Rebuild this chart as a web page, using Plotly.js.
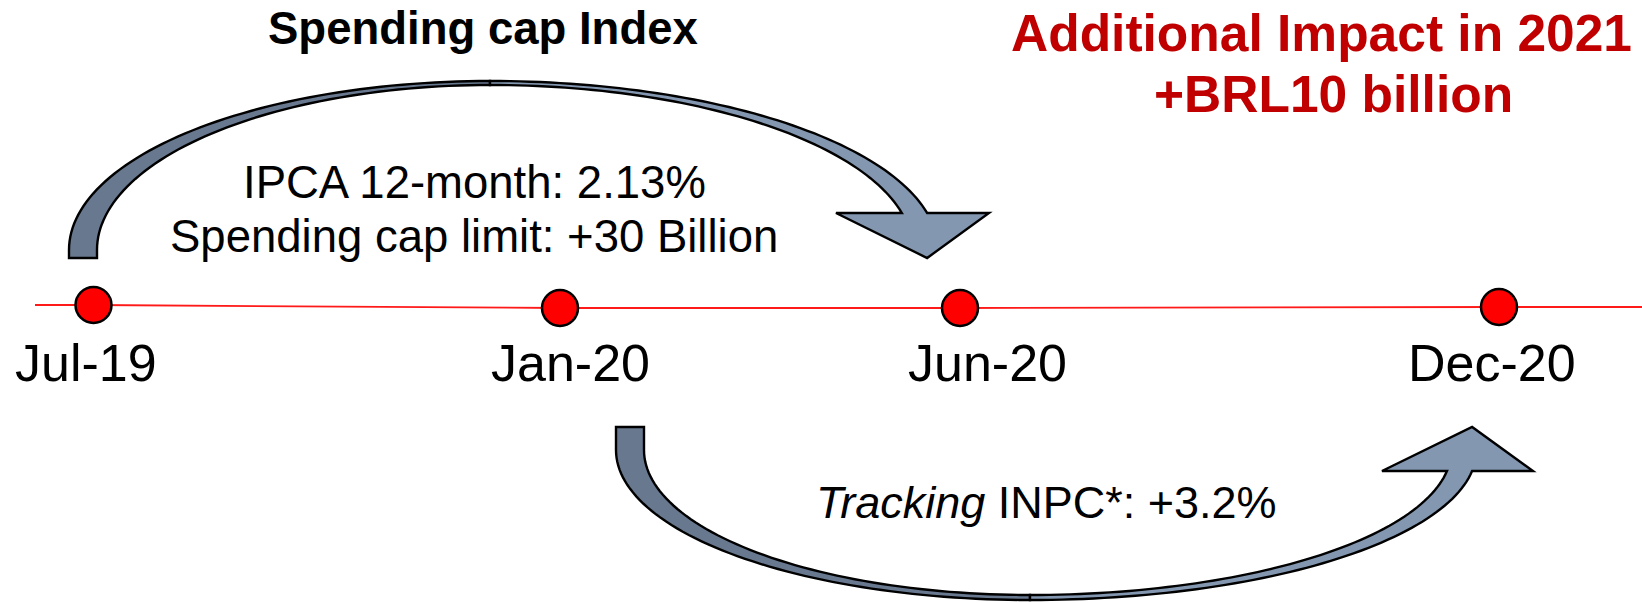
<!DOCTYPE html>
<html>
<head>
<meta charset="utf-8">
<script src="https://cdn.plot.ly/plotly-3.0.1.min.js"></script>
<style>
  html, body { margin: 0; padding: 0; background: #ffffff; }
  #chart { width: 1642px; height: 603px; }
</style>
</head>
<body>
<div id="chart"></div>
<script>
// ---------------- data ----------------
const dates = ['Jul-19', 'Jan-20', 'Jun-20', 'Dec-20'];
const ipca12m = 2.13;          // % IPCA 12-month
const capLimitBn = 30;         // spending cap limit, BRL billion
const inpcTracking = 3.2;      // % INPC tracking
const extraImpactBn = 10;      // additional impact, BRL billion
const impactYear = 2021;
const titleText = 'Spending cap Index';

// ---------------- layout positions (pixels) ----------------
const W = 1642, H = 603;
const dotX = [93.5, 560, 960, 1499];
const dotY = [305, 308, 308, 307];
const labelX = [86, 570, 987, 1492];
const labelY = 363;
const lineStartX = 35;

const FONT = 'Liberation Sans, Arial, Helvetica, sans-serif';
const DARK = '#68788F', LIGHT = '#8497B0';

// half elliptical arc from apex to the point at y = yEnd on side hSign
function halfArc(cx, cy, a, b, vSign, hSign, yEnd, n) {
  n = n || 60;
  const c = Math.max(-1, Math.min(1, (yEnd - cy) / (vSign * b)));
  const tEnd = Math.acos(c);
  const pts = [];
  for (let i = 0; i <= n; i++) {
    const t = tEnd * i / n;
    pts.push([cx + hSign * a * Math.sin(t), cy + vSign * b * Math.cos(t)]);
  }
  return pts;
}
function toPath(pts) {
  return 'M' + pts.map(p => p[0].toFixed(2) + ',' + p[1].toFixed(2)).join('L') + 'Z';
}

// curved arrow built from two bands (dark back part + light front part with head)
function curvedArrow(g) {
  const v = g.vSign;
  const oL = halfArc(g.cx, g.cy, g.oaL, g.ob, v, -1, g.cy);
  const iL = halfArc(g.cx, g.cy, g.iaL, g.ib, v, -1, g.cy).reverse();
  const dark = oL.concat([[oL[oL.length - 1][0], g.tailY], [iL[0][0], g.tailY]], iL);
  const oR = halfArc(g.cx, g.cy, g.oaR, g.ob, v, 1, g.headY);
  const iR = halfArc(g.cx, g.cy, g.iaR, g.ib, v, 1, g.headY).reverse();
  const tipX = oR[oR.length - 1][0];
  const light = oR.concat([[g.headR, g.headY], [tipX, g.tipY], [g.headL, g.headY]], iR);
  return [
    {type: 'path', xref: 'x', yref: 'y', path: toPath(dark), fillcolor: DARK, line: {color: '#000', width: 2.4}},
    {type: 'path', xref: 'x', yref: 'y', path: toPath(light), fillcolor: LIGHT, line: {color: '#000', width: 2.4}}
  ];
}

const topArrow = curvedArrow({cx: 490, cy: 250, vSign: -1, ob: 169, oaL: 421, oaR: 448,
  ib: 165, iaL: 393, iaR: 422.6, tailY: 258, headY: 213, headL: 836, headR: 989, tipY: 258});
const botArrow = curvedArrow({cx: 1030, cy: 450, vSign: 1, ob: 150, oaL: 414, oaR: 446.5,
  ib: 145, iaL: 386, iaR: 421.4, tailY: 427, headY: 471, headL: 1382, headR: 1533, tipY: 427});

// ---------------- traces ----------------
const timeline = {
  x: [lineStartX].concat(dotX, [W]),
  y: [dotY[0]].concat(dotY, [dotY[dotY.length - 1]]),
  mode: 'lines', line: {color: '#FF1A1A', width: 1.8}, hoverinfo: 'skip', showlegend: false
};
const dots = {
  x: dotX, y: dotY, text: dates, mode: 'markers',
  marker: {size: 36, color: '#FF0000', line: {color: '#000000', width: 2.5}},
  hoverinfo: 'text', showlegend: false
};

// ---------------- annotations ----------------
function ann(x, y, text, size, color, bold) {
  return {x: x, y: y, xref: 'x', yref: 'y', text: bold ? '<b>' + text + '</b>' : text,
    showarrow: false, xanchor: 'center', yanchor: 'middle',
    font: {family: FONT, size: size, color: color}};
}
const annotations = [
  ann(483, 28, titleText, 45.5, '#000000', true),
  ann(1321, 33, 'Additional Impact in ' + impactYear, 51.5, '#C00000', true),
  ann(1333, 94, '+BRL' + extraImpactBn + ' billion', 51.5, '#C00000', true),
  ann(474, 182, 'IPCA 12-month: ' + ipca12m.toFixed(2) + '%', 45.5, '#000000', false),
  ann(474, 236, 'Spending cap limit: +' + capLimitBn + ' Billion', 45.5, '#000000', false),
  ann(1046, 502, '<i>Tracking</i> INPC*: +' + inpcTracking.toFixed(1) + '%', 45, '#000000', false)
].concat(dates.map((d, i) => ann(labelX[i], labelY, d, 52, '#000000', false)));

const layout = {
  width: W, height: H,
  margin: {l: 0, r: 0, t: 0, b: 0},
  paper_bgcolor: '#ffffff', plot_bgcolor: '#ffffff',
  xaxis: {range: [0, W], visible: false, fixedrange: true},
  yaxis: {range: [H, 0], visible: false, fixedrange: true},
  shapes: topArrow.concat(botArrow),
  annotations: annotations,
  showlegend: false
};

Plotly.newPlot('chart', [timeline, dots], layout, {displayModeBar: false, staticPlot: true});
</script>
</body>
</html>
